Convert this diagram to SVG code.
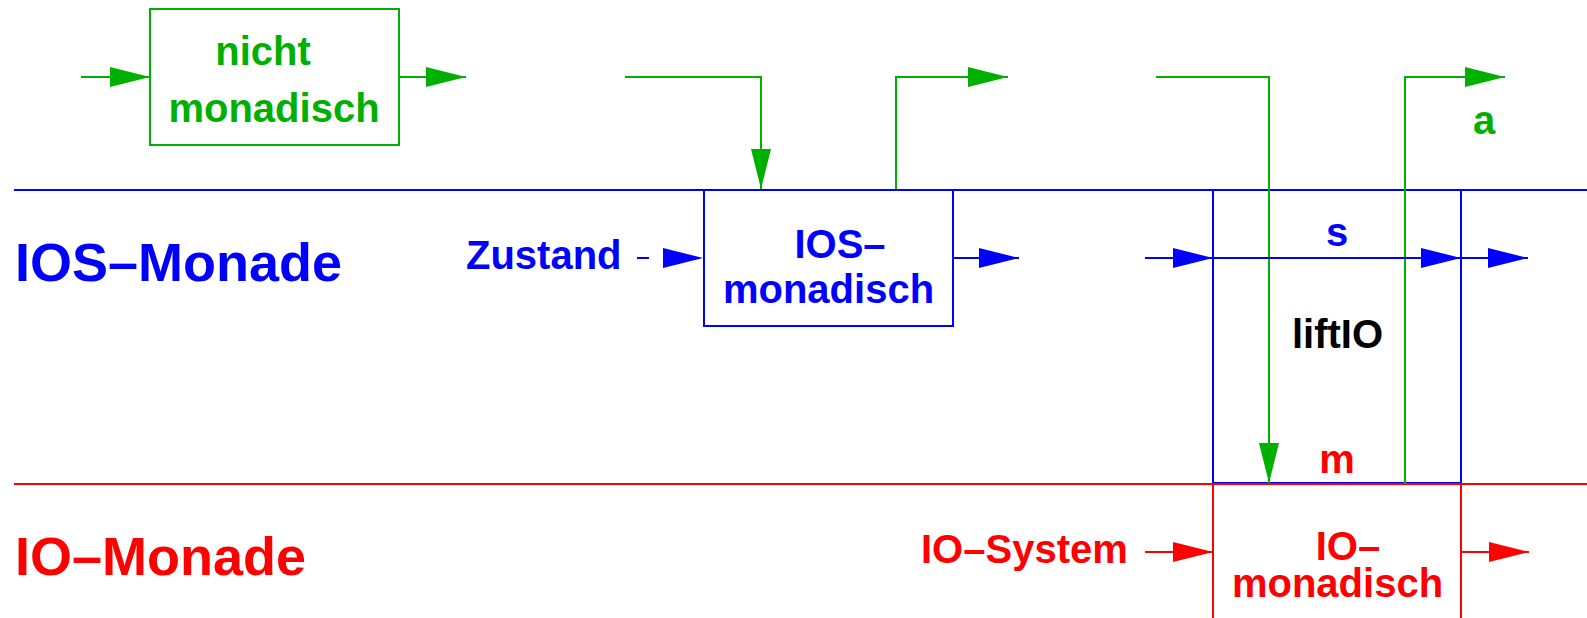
<svg xmlns="http://www.w3.org/2000/svg" width="1587" height="618" viewBox="0 0 1587 618">
<style>
text{font-family:"Liberation Sans",Arial,Helvetica,sans-serif;font-weight:bold;font-size:40px}
.c{text-anchor:middle}
.big{font-size:54px}
.g{fill:#00b000}.b{fill:#0000ff}.r{fill:#ff0000}.k{fill:#000}
.lg{stroke:#00b000;stroke-width:2;fill:none}
.lb{stroke:#0000ff;stroke-width:2;fill:none}
.lr{stroke:#ff0000;stroke-width:2;fill:none}
.ag{marker-end:url(#mg)}.ab{marker-end:url(#mb)}.ar{marker-end:url(#mr)}
</style>
<defs>
<marker id="mg" markerUnits="userSpaceOnUse" markerWidth="42" markerHeight="22" refX="40" refY="10" orient="auto" overflow="visible"><path d="M0,0 L40,10 L0,20 Z" fill="#00b000"/></marker>
<marker id="mb" markerUnits="userSpaceOnUse" markerWidth="42" markerHeight="22" refX="40" refY="10" orient="auto" overflow="visible"><path d="M0,0 L40,10 L0,20 Z" fill="#0000ff"/></marker>
<marker id="mr" markerUnits="userSpaceOnUse" markerWidth="42" markerHeight="22" refX="40" refY="10" orient="auto" overflow="visible"><path d="M0,0 L40,10 L0,20 Z" fill="#ff0000"/></marker>
</defs>
<rect width="1587" height="618" fill="#fff"/>

<g id="layers">
<line class="lb" x1="14" y1="190" x2="1587" y2="190"/>
<line class="lr" x1="14" y1="484" x2="1587" y2="484"/>
<text class="b big" x="15" y="281">IOS–Monade</text>
<text class="r big" x="15" y="575">IO–Monade</text>
</g>

<g id="nicht-monadisch">
<rect class="lg" x="150" y="9" width="249" height="136"/>
<text class="g c" x="263" y="65">nicht</text>
<text class="g c" x="274" y="122">monadisch</text>
</g>

<g id="ios-monadisch">
<rect class="lb" x="704" y="190" width="249" height="136"/>
<text class="b c" x="840" y="258">IOS–</text>
<text class="b c" x="828.5" y="303">monadisch</text>
</g>

<g id="liftIO">
<rect class="lb" x="1213" y="190" width="248" height="293"/>
<text class="b c" x="1337" y="246">s</text>
<text class="k c" x="1337.5" y="348">liftIO</text>
<text class="r c" x="1337" y="473">m</text>
</g>

<g id="io-monadisch">
<path class="lr" d="M1213,640 V484 H1461 V640"/>
<text class="r c" x="1348" y="560">IO–</text>
<text class="r c" x="1337.5" y="597">monadisch</text>
</g>

<g id="zustand">
<text class="b" x="466" y="269">Zustand</text>
</g>
<g id="io-system">
<text class="r" x="921" y="563">IO–System</text>
</g>
<g id="label-a">
<text class="g c" x="1484" y="134">a</text>
</g>

<g id="connectors">
<path class="lg ag" d="M81,77 H150"/>
<path class="lg ag" d="M399,77 H466"/>
<path class="lg ag" d="M625,77 H761 V189"/>
<path class="lg ag" d="M896,189 V77 H1008"/>
<path class="lg ag" d="M1156,77 H1269 V483"/>
<path class="lg ag" d="M1405,484 V77 H1505"/>
<path class="lb ab" d="M637,258 H703" stroke-dasharray="12 60"/>
<path class="lb ab" d="M953,258 H1019"/>
<path class="lb ab" d="M1145,258 H1213"/>
<path class="lb ab" d="M1213,258 H1461"/>
<path class="lb ab" d="M1461,258 H1528"/>
<path class="lr ar" d="M1145,552 H1213"/>
<path class="lr ar" d="M1461,552 H1529"/>
</g>
</svg>
